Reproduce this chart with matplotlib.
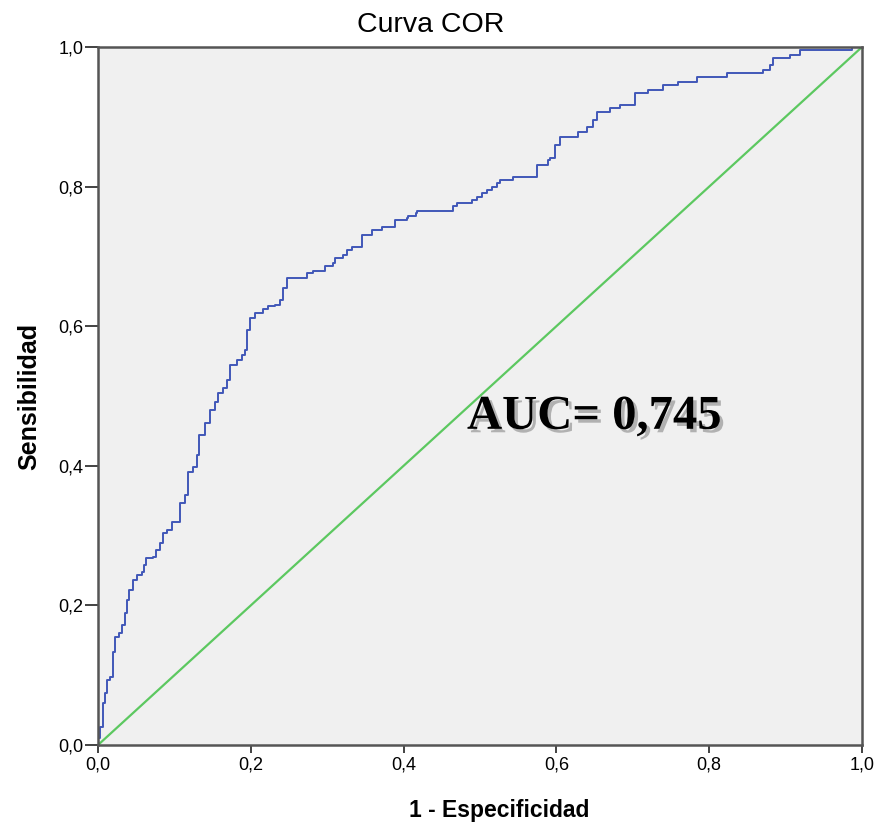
import matplotlib
matplotlib.use("Agg")
import matplotlib.pyplot as plt
import matplotlib.patheffects as pe

fpr = [0.000, 0.000, 0.003, 0.007, 0.009, 0.012, 0.016, 0.020, 0.022, 0.027, 0.031,
       0.035, 0.038, 0.041, 0.046, 0.051, 0.058, 0.060, 0.063, 0.072, 0.076,
       0.081, 0.085, 0.090, 0.097, 0.107, 0.114, 0.118, 0.124, 0.130, 0.132,
       0.140, 0.147, 0.153, 0.157, 0.164, 0.169, 0.173, 0.182, 0.188, 0.192,
       0.195, 0.199, 0.205, 0.216, 0.223, 0.232, 0.238, 0.242, 0.247, 0.274,
       0.281, 0.297, 0.308, 0.310, 0.321, 0.326, 0.332, 0.346, 0.359, 0.372,
       0.389, 0.404, 0.406, 0.416, 0.418, 0.465, 0.470, 0.490, 0.496, 0.503,
       0.509, 0.516, 0.522, 0.526, 0.543, 0.575, 0.589, 0.592, 0.598, 0.605,
       0.628, 0.640, 0.648, 0.653, 0.670, 0.683, 0.703, 0.720, 0.740, 0.759,
       0.784, 0.823, 0.870, 0.880, 0.884, 0.906, 0.919, 0.987, 1.000]
tpr = [0.000, 0.010, 0.026, 0.060, 0.074, 0.093, 0.097, 0.133, 0.155, 0.160, 0.172,
       0.189, 0.208, 0.222, 0.236, 0.244, 0.248, 0.258, 0.268, 0.270, 0.279,
       0.289, 0.304, 0.308, 0.319, 0.347, 0.358, 0.391, 0.398, 0.415, 0.444,
       0.461, 0.480, 0.491, 0.504, 0.511, 0.523, 0.544, 0.551, 0.559, 0.566,
       0.595, 0.612, 0.619, 0.624, 0.629, 0.630, 0.638, 0.655, 0.669, 0.676,
       0.679, 0.686, 0.690, 0.698, 0.702, 0.709, 0.713, 0.731, 0.738, 0.742,
       0.752, 0.755, 0.758, 0.762, 0.765, 0.772, 0.776, 0.781, 0.785, 0.791,
       0.795, 0.800, 0.805, 0.810, 0.814, 0.831, 0.838, 0.841, 0.860, 0.871,
       0.878, 0.885, 0.895, 0.907, 0.912, 0.917, 0.934, 0.938, 0.946, 0.950,
       0.957, 0.963, 0.967, 0.974, 0.984, 0.988, 0.996, 1.000, 1.000]

ref_x = [0.0, 1.0]
ref_y = [0.0, 1.0]

ticks = [0.0, 0.2, 0.4, 0.6, 0.8, 1.0]
tick_labels = ["0,0", "0,2", "0,4", "0,6", "0,8", "1,0"]

title = "Curva COR"
xlabel = "1 - Especificidad"
ylabel = "Sensibilidad"
auc_text = "AUC= 0,745"

plt.rcParams['font.family'] = ['Liberation Sans', 'DejaVu Sans']

fig = plt.figure(figsize=(8.81, 8.25), dpi=100)
ax = fig.add_axes([98/881, 1 - 745/825, (862-98)/881, (745-47)/825])
ax.set_facecolor('#f0f0f0')

ax.plot(fpr, tpr, drawstyle='steps-post', color='#4157b8', lw=1.4)
ax.plot(ref_x, ref_y, color='#5cc860', lw=1.6)

ax.set_xlim(0, 1)
ax.set_ylim(0, 1)
ax.set_xticks(ticks)
ax.set_xticklabels(tick_labels, fontsize=13)
ax.set_yticks(ticks)
ax.set_yticklabels(tick_labels, fontsize=13)
ax.tick_params(axis='y', direction='out', length=9.5, width=1.2, color='#222222', pad=1)
ax.tick_params(axis='x', direction='out', length=6, width=1.2, color='#222222', pad=2)

for s in ax.spines.values():
    s.set_color('#555555')
    s.set_linewidth(1.8)

fig.text(431/881, 1 - 25/825, title, fontsize=20.5, ha='center', va='center')
ax.set_xlabel(xlabel, fontsize=16.5, fontweight='bold')
ax.xaxis.set_label_coords((499-98)/764, -0.077)
ax.set_ylabel(ylabel, fontsize=18, fontweight='bold', labelpad=12)

ax.text(0.483, 0.453, auc_text, fontsize=35, fontweight='bold',
        family=['Liberation Serif', 'DejaVu Serif'], color='black',
        ha='left', va='baseline',
        path_effects=[pe.withSimplePatchShadow(offset=(2.5, -2.5), shadow_rgbFace='#888888', alpha=0.6)])

fig.savefig('out.png', dpi=100)
